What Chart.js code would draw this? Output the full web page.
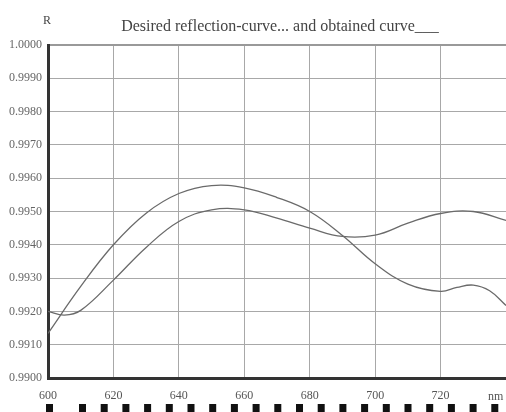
<!DOCTYPE html>
<html>
<head>
<meta charset="utf-8">
<script src="https://cdn.jsdelivr.net/npm/chart.js@4/dist/chart.umd.min.js"></script>
<style>
  html, body { margin: 0; padding: 0; background: #fff; }
  #wrap { width: 506px; height: 412px; }
</style>
</head>
<body>
<div id="wrap"><canvas id="reflCanvas" width="506" height="412"></canvas></div>
<script>
// Values (wavelength in nm, reflectance R)
const wavelengthsA = [600, 610, 620, 630, 640, 650, 660, 670, 680, 690, 700, 710, 720, 725, 730, 735, 740];
const curveA = [0.99134, 0.99275, 0.99400, 0.99495, 0.99554, 0.99578, 0.99571, 0.99542, 0.99500, 0.99428, 0.99343, 0.99282, 0.99260, 0.99272, 0.99279, 0.99262, 0.99218];

const wavelengthsB = [600, 605, 610, 620, 630, 640, 650, 660, 670, 680, 690, 700, 710, 720, 730, 740];
const curveB = [0.99200, 0.99189, 0.99203, 0.99294, 0.99392, 0.99470, 0.99505, 0.99505, 0.99480, 0.99450, 0.99425, 0.99429, 0.99465, 0.99494, 0.99500, 0.99473];

const xTicks = [600, 620, 640, 660, 680, 700, 720];
const titleText = "Desired reflection-curve... and obtained curve___";
const yAxisLabel = "R";
const xUnitLabel = "nm";

const serif = '"Liberation Serif", "DejaVu Serif", serif';

const toPoints = (xs, ys) => xs.map((x, i) => ({ x: x, y: ys[i] }));

// title, axis letters and the strip of black squares under the plot
const decorations = {
    id: 'decorations',
    afterDraw(chart) {
        const ctx = chart.ctx;
        const area = chart.chartArea;
        ctx.save();
        ctx.fillStyle = '#444';
        ctx.font = '16px ' + serif;
        ctx.textAlign = 'center';
        ctx.textBaseline = 'middle';
        ctx.fillText(titleText, 280, 27);
        ctx.font = '12px ' + serif;
        ctx.fillText(yAxisLabel, 47, 21);
        ctx.fillStyle = '#555';
        ctx.font = '12px ' + serif;
        ctx.textAlign = 'left';
        ctx.fillText(xUnitLabel, area.right - 18, area.bottom + 19);
        // film-like square strip along the bottom edge
        ctx.fillStyle = '#111';
        let x = area.left;
        ctx.fillRect(x - 2, 404, 7, 8);
        x += 33;
        while (x < chart.width) {
            ctx.fillRect(x - 2, 404, 7, 8);
            x += 21.7;
        }
        ctx.restore();
    }
};

const lineStyle = {
    borderColor: '#6a6a6a',
    borderWidth: 1.3,
    pointRadius: 0,
    tension: 0.4,
    fill: false,
};

new Chart(document.getElementById('reflCanvas'), {
    type: 'line',
    data: {
        datasets: [
            Object.assign({ label: 'Desired', data: toPoints(wavelengthsA, curveA) }, lineStyle),
            Object.assign({ label: 'Obtained', data: toPoints(wavelengthsB, curveB) }, lineStyle),
        ],
    },
    options: {
        responsive: false,
        animation: false,
        layout: { padding: { top: 45, right: 0, bottom: 0, left: 0 } },
        plugins: {
            legend: { display: false },
            title: { display: false },
            tooltip: { enabled: false },
        },
        scales: {
            x: {
                type: 'linear',
                min: 600,
                max: 740,
                afterBuildTicks: (axis) => { axis.ticks = xTicks.map(v => ({ value: v })); },
                afterFit: (axis) => { axis.height = 34; },
                ticks: {
                    padding: 11,
                    color: '#555',
                    font: { family: serif, size: 12 },
                    maxRotation: 0,
                    callback: (v) => String(v),
                },
                grid: { color: '#a8a8a8', lineWidth: 1, drawTicks: false },
                border: { color: '#333', width: 3 },
            },
            y: {
                min: 0.99,
                max: 1.0,
                afterFit: (axis) => { axis.width = 48; },
                ticks: {
                    stepSize: 0.001,
                    padding: 6,
                    color: '#666',
                    font: { family: serif, size: 12 },
                    callback: (v) => Number(v).toFixed(4),
                },
                grid: {
                    color: (c) => (c.tick && c.tick.value >= 0.99999 ? '#999' : '#a8a8a8'),
                    lineWidth: (c) => (c.tick && c.tick.value >= 0.99999 ? 2 : 1),
                    drawTicks: false,
                },
                border: { color: '#333', width: 3 },
            },
        },
    },
    plugins: [decorations],
});
</script>
</body>
</html>
